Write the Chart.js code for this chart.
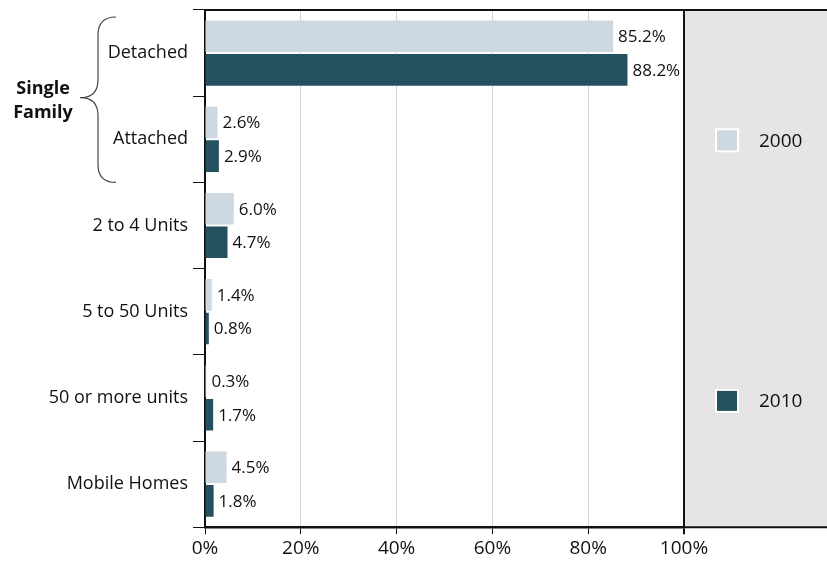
<!DOCTYPE html>
<html>
<head>
<meta charset="utf-8">
<script src="https://cdn.jsdelivr.net/npm/chart.js@4.4.0/dist/chart.umd.min.js"></script>
<style>
  html, body { margin: 0; padding: 0; background: #fff; }
  #wrap { width: 827px; height: 563px; }
</style>
</head>
<body>
<div id="wrap"><canvas id="housingChart" width="827" height="563"></canvas></div>
<script>
// categories + series
const categories = ["Detached", "Attached", "2 to 4 Units", "5 to 50 Units", "50 or more units", "Mobile Homes"];
const values2000 = [85.2, 2.6, 6.0, 1.4, 0.3, 4.5];
const values2010 = [88.2, 2.9, 4.7, 0.8, 1.7, 1.8];
const xTicks = [0, 20, 40, 60, 80, 100];
const seriesNames = ["2000", "2010"];
const groupLabel = ["Single", "Family"];

const FONT = "'Open Sans', 'DejaVu Sans', sans-serif";
const lightColor = "#cdd8e0";
const darkColor = "#24505f";

// gray side panel, top line, bottom line extension
const panelPlugin = {
  id: "panel",
  beforeDraw(chart) {
    const { ctx, chartArea: a, width } = chart;
    ctx.save();
    ctx.fillStyle = "#e5e5e5";
    ctx.fillRect(a.right, a.top, width - a.right, a.bottom - a.top);
    ctx.restore();
  },
  afterDraw(chart) {
    const { ctx, chartArea: a, width } = chart;
    ctx.save();
    ctx.strokeStyle = "#111";
    ctx.lineWidth = 2;
    ctx.beginPath();
    ctx.moveTo(a.left, a.top);
    ctx.lineTo(width, a.top);
    ctx.moveTo(a.right, a.bottom);
    ctx.lineTo(width, a.bottom);
    ctx.stroke();
    ctx.restore();
  }
};

// value labels at the bar ends
const labelPlugin = {
  id: "barLabels",
  afterDatasetsDraw(chart) {
    const { ctx } = chart;
    ctx.save();
    ctx.font = "17px " + FONT;
    ctx.fillStyle = "#111";
    ctx.textAlign = "left";
    ctx.textBaseline = "middle";
    chart.data.datasets.forEach((ds, i) => {
      chart.getDatasetMeta(i).data.forEach((bar, j) => {
        ctx.fillText(ds.data[j].toFixed(1) + "%", bar.x + 5, bar.y + 1);
      });
    });
    ctx.restore();
  }
};

// legend in the gray panel + "Single Family" brace
const extrasPlugin = {
  id: "extras",
  afterDraw(chart) {
    const { ctx, chartArea: a } = chart;
    const y = chart.scales.y;
    const band = y.height / categories.length;
    ctx.save();

    // legend: one entry beside the 2nd and 5th category bands
    const legendRows = [1, 4];
    chart.data.datasets.forEach((ds, i) => {
      const cy = y.getPixelForValue(legendRows[i]) + 1 + i * 2;
      const sx = a.right + 32;
      ctx.fillStyle = "#fff";
      ctx.fillRect(sx - 1, cy - 12, 24, 24);
      ctx.fillStyle = ds.backgroundColor;
      ctx.fillRect(sx + 1, cy - 10, 20, 20);
      ctx.fillStyle = "#111";
      ctx.font = "19px " + FONT;
      ctx.textBaseline = "middle";
      ctx.fillText(ds.label, sx + 43, cy + 1);
    });

    // brace around Detached + Attached
    const top = y.getPixelForValue(0) - band / 2 + 7;
    const bot = y.getPixelForValue(1) + band / 2;
    const mid = (top + bot) / 2 - 2;
    const bx = 98, r = 18;
    ctx.strokeStyle = "#444";
    ctx.lineWidth = 1.2;
    ctx.beginPath();
    ctx.moveTo(bx + r, top);
    ctx.quadraticCurveTo(bx, top, bx, top + r);
    ctx.lineTo(bx, mid - r);
    ctx.quadraticCurveTo(bx, mid, bx - r, mid);
    ctx.quadraticCurveTo(bx, mid, bx, mid + r);
    ctx.lineTo(bx, bot - r);
    ctx.quadraticCurveTo(bx, bot, bx + r, bot);
    ctx.stroke();

    ctx.fillStyle = "#111";
    ctx.font = "bold 18px " + FONT;
    ctx.textAlign = "center";
    ctx.textBaseline = "middle";
    ctx.fillText(groupLabel[0], 43, mid - 9);
    ctx.fillText(groupLabel[1], 43, mid + 15);
    ctx.restore();
  }
};

new Chart(document.getElementById("housingChart"), {
  type: "bar",
  data: {
    labels: categories,
    datasets: [
      { label: seriesNames[0], data: values2000, backgroundColor: lightColor },
      { label: seriesNames[1], data: values2010, backgroundColor: darkColor }
    ]
  },
  options: {
    indexAxis: "y",
    responsive: false,
    animation: false,
    categoryPercentage: 0.78,
    barPercentage: 0.94,
    layout: { padding: { top: 10, right: 143, left: 0, bottom: 0 } },
    plugins: {
      legend: { display: false },
      tooltip: { enabled: false }
    },
    scales: {
      x: {
        min: 0,
        max: 100,
        afterBuildTicks: (s) => { s.ticks = xTicks.map((v) => ({ value: v })); },
        grid: {
          color: (c) => (c.tick && c.tick.value === 100 ? "#111" : "#d4d4d4"),
          lineWidth: (c) => (c.tick && c.tick.value === 100 ? 2 : 1),
          tickColor: "#111",
          tickLength: 7
        },
        border: { color: "#111", width: 2.5 },
        ticks: {
          color: "#111",
          font: { family: FONT, size: 19 },
          padding: 3,
          callback: (v) => v + "%"
        }
      },
      y: {
        afterFit: (s) => {
          s.width = 205;
          s.paddingTop = 0;
          s.paddingBottom = 0;
        },
        grid: {
          drawOnChartArea: false,
          tickColor: "#111",
          tickLength: 12
        },
        border: { color: "#111", width: 2 },
        ticks: {
          color: "#111",
          font: { family: FONT, size: 18 },
          padding: 5
        }
      }
    }
  },
  plugins: [panelPlugin, labelPlugin, extrasPlugin]
});
</script>
</body>
</html>
